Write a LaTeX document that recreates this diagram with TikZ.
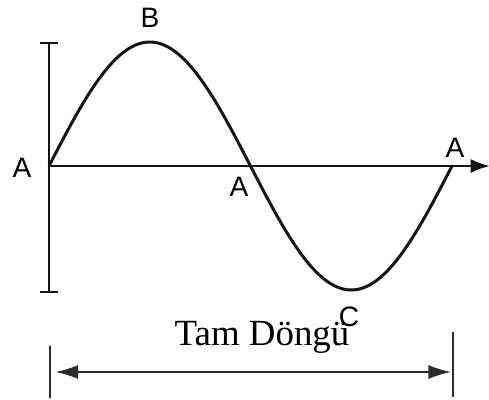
\documentclass[tikz,border=0pt]{standalone}
\usepackage{fontspec}
\setmainfont{Liberation Serif}
\newfontfamily\arialfont{Liberation Sans}
\usetikzlibrary{arrows.meta}
\definecolor{wavegray}{RGB}{20,20,20}
\definecolor{dimgray}{RGB}{45,45,45}

\begin{document}
\begin{tikzpicture}[
    x=0.02cm,y=-0.02cm,
    point/.style={font=\arialfont\fontsize{16}{16}\selectfont,inner sep=0pt},
    wave/.style={draw=wavegray,line width=1.7pt,line join=round},
    axis/.style={draw=wavegray,line width=1.4pt},
    dimline/.style={draw=dimgray,line width=1.1pt},
    arrow/.style={-{Latex[length=11pt,width=8pt]}}
  ]
    \useasboundingbox (0,0) rectangle (489,399);

    % axes
    \coordinate (origin) at (49,166);
    \coordinate (xend) at (490,166);
    \coordinate (ytop) at (49,43);
    \coordinate (ybot) at (49,292);
    \draw[axis,arrow] (origin) -- (xend);
    \draw[axis,line width=1pt] (ytop) -- (ybot);
    \draw[axis,line width=1pt] ([xshift=-5]ytop) -- ([xshift=5]ytop);
    \draw[axis,line width=1pt] ([xshift=-5]ybot) -- ([xshift=5]ybot);

    % sine wave
    \draw[wave] plot[domain=0:360,samples=120] ({49+\x*1.1194},{166-124*sin(\x)});

    % point labels
    \node[point] (a1) at (22,168) {A};
    \node[point] (b) at (150,18) {B};
    \node[point] (a2) at (239,187) {A};
    \node[point] (c) at (349,317) {C};
    \node[point] (a3) at (455,148) {A};

    % one period
    \coordinate (dimL) at (50,372);
    \coordinate (dimR) at (453,372);
    \draw[dimline,line width=0.8pt] ([yshift=-15]dimL) -- ([yshift=15]dimL);
    \draw[dimline,line width=1.2pt] ([yshift=-14]dimR) -- ([yshift=23]dimR);
    \draw[dimline,{Latex[length=13pt,width=8pt]}-{Latex[length=13pt,width=8pt]}]
      ([xshift=3]dimL) -- ([xshift=-1]dimR);
    \node[font=\fontsize{21}{21}\selectfont,inner sep=0pt] (period) at (262,337) {Tam Döngü};
  \end{tikzpicture}
\end{document}
